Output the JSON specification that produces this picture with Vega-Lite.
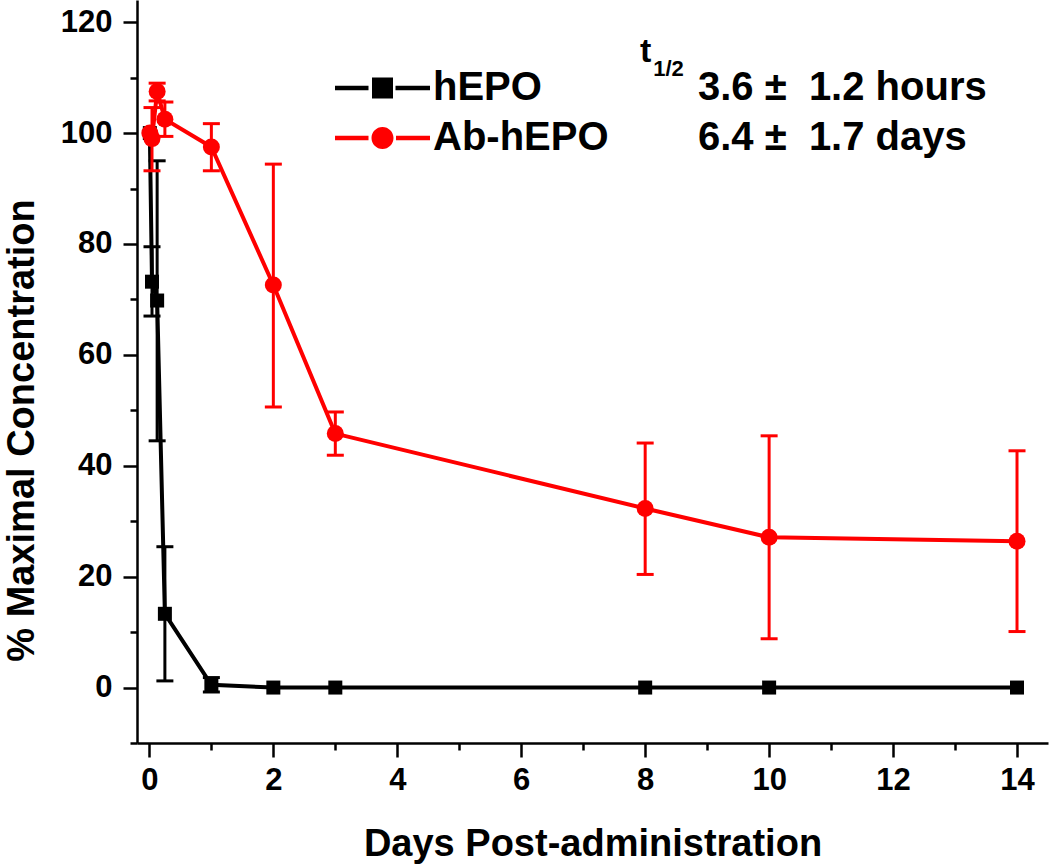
{
  "$schema": "https://vega.github.io/schema/vega-lite/v6.json",
  "autosize": {"type": "none"},
  "padding": {"left": 137, "top": 0, "right": 2, "bottom": 123},
  "width": 911,
  "height": 743,
  "background": "white",
  "config": {
    "view": {"stroke": null},
    "font": "Liberation Sans",
    "axis": {
      "grid": false,
      "domainColor": "black",
      "domainWidth": 2.5,
      "tickColor": "black",
      "tickWidth": 2.5,
      "labelFont": "Liberation Sans",
      "labelFontWeight": "bold",
      "labelFontSize": 31,
      "labelColor": "black",
      "titleFont": "Liberation Sans",
      "titleFontWeight": "bold",
      "titleFontSize": 38,
      "titleColor": "black",
      "labelOverlap": false
    }
  },
  "datasets": {
    "pk": [
      {"series": "hEPO", "day": 0.007, "value": 100, "lo": null, "hi": null},
      {"series": "hEPO", "day": 0.042, "value": 73.2, "lo": 67.0, "hi": 79.5},
      {"series": "hEPO", "day": 0.125, "value": 69.8, "lo": 44.5, "hi": 95.0},
      {"series": "hEPO", "day": 0.25, "value": 13.3, "lo": 1.2, "hi": 25.4},
      {"series": "hEPO", "day": 1, "value": 0.5, "lo": -0.8, "hi": 1.8},
      {"series": "hEPO", "day": 2, "value": 0, "lo": null, "hi": null},
      {"series": "hEPO", "day": 3, "value": 0, "lo": null, "hi": null},
      {"series": "hEPO", "day": 8, "value": 0, "lo": null, "hi": null},
      {"series": "hEPO", "day": 10, "value": 0, "lo": null, "hi": null},
      {"series": "hEPO", "day": 14, "value": 0, "lo": null, "hi": null},
      {"series": "Ab-hEPO", "day": 0.007, "value": 100, "lo": null, "hi": null},
      {"series": "Ab-hEPO", "day": 0.042, "value": 99, "lo": 93.2, "hi": 104.6},
      {"series": "Ab-hEPO", "day": 0.125, "value": 107.5, "lo": 105.8, "hi": 109.0},
      {"series": "Ab-hEPO", "day": 0.25, "value": 102.5, "lo": 99.4, "hi": 105.6},
      {"series": "Ab-hEPO", "day": 1, "value": 97.5, "lo": 93.2, "hi": 101.7},
      {"series": "Ab-hEPO", "day": 2, "value": 72.6, "lo": 50.6, "hi": 94.4},
      {"series": "Ab-hEPO", "day": 3, "value": 45.8, "lo": 41.9, "hi": 49.7},
      {"series": "Ab-hEPO", "day": 8, "value": 32.3, "lo": 20.4, "hi": 44.1},
      {"series": "Ab-hEPO", "day": 10, "value": 27.1, "lo": 8.8, "hi": 45.4},
      {"series": "Ab-hEPO", "day": 14, "value": 26.4, "lo": 10.1, "hi": 42.7}
    ],
    "notes": [
      {"label": "3.6 ±\u00a0 1.2 hours"},
      {"label": "6.4 ±\u00a0 1.7 days"},
      {"label": "t"},
      {"label": "1/2"}
    ]
  },
  "data": {"name": "pk"},
  "layer": [
    {
      "encoding": {
        "x": {
          "field": "day", "type": "quantitative",
          "scale": {"domain": [-0.2, 14.5], "nice": false, "zero": false},
          "axis": {
            "title": "Days Post-administration",
            "values": [0,1,2,3,4,5,6,7,8,9,10,11,12,13,14],
            "format": "d",
            "labelExpr": "datum.value % 2 === 0 ? datum.label : ''",
            "tickSize": {"condition": {"test": "datum.value % 2 !== 0", "value": 7}, "value": 14},
            "labelPadding": 32,
            "labelBaseline": "alphabetic",
            "titleBaseline": "alphabetic",
            "titleY": 112
          }
        },
        "y": {
          "field": "value", "type": "quantitative",
          "scale": {"domain": [-10, 124], "nice": false, "zero": false},
          "axis": {
            "title": "% Maximal Concentration",
            "values": [-10,0,10,20,30,40,50,60,70,80,90,100,110,120],
            "format": "d",
            "labelExpr": "(datum.value % 20 === 0 && datum.value >= 0) ? datum.label : ''",
            "tickSize": {"condition": {"test": "datum.value % 20 !== 0", "value": 7}, "value": 14},
            "labelPadding": 11,
            "titleAngle": -90,
            "titleBaseline": "alphabetic",
            "titleAlign": "center",
            "titleX": -104,
            "titleY": 430
          }
        }
      },
      "layer": [
        {
          "transform": [{"filter": "datum.series === 'hEPO'"}],
          "mark": {"type": "line", "color": "black", "strokeWidth": 4}
        },
        {
          "transform": [{"filter": "datum.series === 'hEPO' && isValid(datum.lo)"}],
          "mark": {"type": "rule", "color": "black", "strokeWidth": 3},
          "encoding": {"y": {"field": "lo", "type": "quantitative"}, "y2": {"field": "hi"}}
        },
        {
          "transform": [{"filter": "datum.series === 'hEPO' && isValid(datum.lo)"}],
          "mark": {"type": "tick", "color": "black", "orient": "horizontal", "size": 17, "thickness": 3, "opacity": 1},
          "encoding": {"y": {"field": "lo", "type": "quantitative"}}
        },
        {
          "transform": [{"filter": "datum.series === 'hEPO' && isValid(datum.lo)"}],
          "mark": {"type": "tick", "color": "black", "orient": "horizontal", "size": 17, "thickness": 3, "opacity": 1},
          "encoding": {"y": {"field": "hi", "type": "quantitative"}}
        },
        {
          "transform": [{"filter": "datum.series === 'hEPO'"}],
          "mark": {"type": "point", "shape": "square", "filled": true, "color": "black", "size": 196, "opacity": 1}
        },
        {
          "transform": [{"filter": "datum.series === 'Ab-hEPO'"}],
          "mark": {"type": "line", "color": "#ff0000", "strokeWidth": 4}
        },
        {
          "transform": [{"filter": "datum.series === 'Ab-hEPO' && isValid(datum.lo)"}],
          "mark": {"type": "rule", "color": "#ff0000", "strokeWidth": 3},
          "encoding": {"y": {"field": "lo", "type": "quantitative"}, "y2": {"field": "hi"}}
        },
        {
          "transform": [{"filter": "datum.series === 'Ab-hEPO' && isValid(datum.lo)"}],
          "mark": {"type": "tick", "color": "#ff0000", "orient": "horizontal", "size": 17, "thickness": 3, "opacity": 1},
          "encoding": {"y": {"field": "lo", "type": "quantitative"}}
        },
        {
          "transform": [{"filter": "datum.series === 'Ab-hEPO' && isValid(datum.lo)"}],
          "mark": {"type": "tick", "color": "#ff0000", "orient": "horizontal", "size": 17, "thickness": 3, "opacity": 1},
          "encoding": {"y": {"field": "hi", "type": "quantitative"}}
        },
        {
          "transform": [{"filter": "datum.series === 'Ab-hEPO'"}],
          "mark": {"type": "point", "shape": "circle", "filled": true, "color": "#ff0000", "size": 289, "opacity": 1}
        }
      ]
    },
    {
      "transform": [{"filter": "datum.day < -100"}],
      "mark": {"type": "point", "filled": true, "opacity": 1},
      "encoding": {
        "color": {
          "field": "series", "type": "nominal",
          "scale": {"domain": ["hEPO", "Ab-hEPO"], "range": ["#000000", "#ff0000"]},
          "legend": {
            "orient": "none", "legendX": 225.5, "legendY": 68, "title": null,
            "labelFont": "Liberation Sans", "labelFontWeight": "bold", "labelFontSize": 40, "labelColor": "black",
            "labelLimit": 400,
            "symbolSize": 400, "labelOffset": 30.5, "rowPadding": 10, "padding": 0, "symbolStrokeWidth": 0,
            "symbolOpacity": 1
          }
        },
        "shape": {
          "field": "series", "type": "nominal",
          "scale": {"domain": ["hEPO", "Ab-hEPO"], "range": [
            "M-4.75,-0.22H-1.4V0.22H-4.75ZM-1.05,-1.05H1.05V1.05H-1.05ZM1.3,-0.22H4.75V0.22H1.3Z",
            "M-4.75,-0.22H-1.4V0.22H-4.75ZM-1.1,0A1.1,1.1 0 1,1 1.1,0A1.1,1.1 0 1,1 -1.1,0ZM1.35,-0.22H4.75V0.22H1.35Z"
          ]},
          "legend": {
            "orient": "none", "legendX": 225.5, "legendY": 68, "title": null,
            "labelFont": "Liberation Sans", "labelFontWeight": "bold", "labelFontSize": 40, "labelColor": "black",
            "labelLimit": 400,
            "symbolSize": 400, "labelOffset": 30.5, "rowPadding": 10, "padding": 0, "symbolStrokeWidth": 0,
            "symbolOpacity": 1
          }
        }
      }
    },
    {
      "data": {"name": "notes"},
      "transform": [{"filter": "datum.label === 't'"}],
      "mark": {"type": "text", "align": "left", "baseline": "middle", "font": "Liberation Sans", "fontWeight": "bold", "fontSize": 34, "color": "black"},
      "encoding": {"x": {"datum": 7.916, "type": "quantitative"}, "y": {"datum": 114.6, "type": "quantitative"}, "text": {"field": "label"}}
    },
    {
      "data": {"name": "notes"},
      "transform": [{"filter": "datum.label === '1/2'"}],
      "mark": {"type": "text", "align": "left", "baseline": "middle", "font": "Liberation Sans", "fontWeight": "bold", "fontSize": 22, "color": "black"},
      "encoding": {"x": {"datum": 8.13, "type": "quantitative"}, "y": {"datum": 111.6, "type": "quantitative"}, "text": {"field": "label"}}
    },
    {
      "data": {"name": "notes"},
      "transform": [{"filter": "indexof(datum.label, 'hours') >= 0"}],
      "mark": {"type": "text", "align": "left", "baseline": "middle", "font": "Liberation Sans", "fontWeight": "bold", "fontSize": 40, "color": "black"},
      "encoding": {"x": {"datum": 8.852, "type": "quantitative"}, "y": {"datum": 108.13, "type": "quantitative"}, "text": {"field": "label"}}
    },
    {
      "data": {"name": "notes"},
      "transform": [{"filter": "indexof(datum.label, 'days') >= 0"}],
      "mark": {"type": "text", "align": "left", "baseline": "middle", "font": "Liberation Sans", "fontWeight": "bold", "fontSize": 40, "color": "black"},
      "encoding": {"x": {"datum": 8.852, "type": "quantitative"}, "y": {"datum": 99.11, "type": "quantitative"}, "text": {"field": "label"}}
    }
  ]
}
